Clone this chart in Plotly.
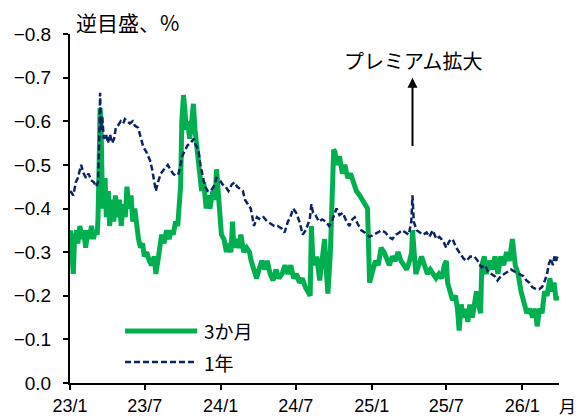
import plotly.graph_objects as go

# 3か月物 逆目盛（%）
m3_dates = [
    "2023-01-02", "2023-01-05", "2023-01-09", "2023-01-12", "2023-01-17", "2023-01-20", "2023-01-25", "2023-01-30",
    "2023-02-03", "2023-02-08", "2023-02-13", "2023-02-17", "2023-02-22", "2023-02-27", "2023-03-03", "2023-03-08",
    "2023-03-10", "2023-03-13", "2023-03-15", "2023-03-17", "2023-03-20", "2023-03-22", "2023-03-27", "2023-03-30",
    "2023-04-04", "2023-04-07", "2023-04-12", "2023-04-17", "2023-04-21", "2023-04-26", "2023-05-01", "2023-05-05",
    "2023-05-10", "2023-05-15", "2023-05-19", "2023-05-24", "2023-05-29", "2023-06-02", "2023-06-07", "2023-06-12",
    "2023-06-16", "2023-06-21", "2023-06-26", "2023-06-30", "2023-07-06", "2023-07-12", "2023-07-18", "2023-07-24",
    "2023-07-28", "2023-08-02", "2023-08-07", "2023-08-11", "2023-08-17", "2023-08-23", "2023-08-29", "2023-09-04",
    "2023-09-08", "2023-09-14", "2023-09-19", "2023-09-22", "2023-09-26", "2023-09-29", "2023-10-03", "2023-10-06",
    "2023-10-10", "2023-10-13", "2023-10-18", "2023-10-23", "2023-10-27", "2023-10-31", "2023-11-03", "2023-11-08",
    "2023-11-12", "2023-11-16", "2023-11-21", "2023-11-27", "2023-12-01", "2023-12-06", "2023-12-13", "2023-12-19",
    "2023-12-22", "2023-12-27", "2024-01-03", "2024-01-09", "2024-01-15", "2024-01-19", "2024-01-26", "2024-01-30",
    "2024-02-02", "2024-02-07", "2024-02-14", "2024-02-19", "2024-02-26", "2024-03-04", "2024-03-11", "2024-03-15",
    "2024-03-21", "2024-03-28", "2024-04-03", "2024-04-10", "2024-04-17", "2024-04-23", "2024-04-30", "2024-05-07",
    "2024-05-14", "2024-05-21", "2024-05-29", "2024-06-05", "2024-06-12", "2024-06-19", "2024-06-26", "2024-07-03",
    "2024-07-10", "2024-07-17", "2024-07-24", "2024-07-31", "2024-08-05", "2024-08-08", "2024-08-11", "2024-08-16",
    "2024-08-21", "2024-08-28", "2024-09-04", "2024-09-09", "2024-09-13", "2024-09-17", "2024-09-23", "2024-09-27",
    "2024-10-01", "2024-10-04", "2024-10-09", "2024-10-15", "2024-10-22", "2024-10-28", "2024-11-04", "2024-11-11",
    "2024-11-18", "2024-11-25", "2024-12-03", "2024-12-10", "2024-12-17", "2024-12-22", "2024-12-27", "2025-01-03",
    "2025-01-10", "2025-01-17", "2025-01-24", "2025-01-31", "2025-02-07", "2025-02-13", "2025-02-20", "2025-02-27",
    "2025-03-06", "2025-03-13", "2025-03-20", "2025-03-27", "2025-04-03", "2025-04-08", "2025-04-10", "2025-04-14",
    "2025-04-18", "2025-04-25", "2025-05-02", "2025-05-09", "2025-05-16", "2025-05-23", "2025-05-30", "2025-06-06",
    "2025-06-13", "2025-06-20", "2025-06-26", "2025-07-01", "2025-07-04", "2025-07-09", "2025-07-16", "2025-07-23",
    "2025-07-28", "2025-08-01", "2025-08-06", "2025-08-12", "2025-08-18", "2025-08-22", "2025-08-27", "2025-09-02",
    "2025-09-08", "2025-09-12", "2025-09-17", "2025-09-22", "2025-09-25", "2025-10-01", "2025-10-06", "2025-10-13",
    "2025-10-20", "2025-10-27", "2025-11-03", "2025-11-10", "2025-11-17", "2025-11-24", "2025-12-01", "2025-12-08",
    "2025-12-15", "2025-12-22", "2025-12-29", "2026-01-05", "2026-01-12", "2026-01-19", "2026-01-26", "2026-02-02",
    "2026-02-06", "2026-02-12", "2026-02-18", "2026-02-24", "2026-03-02", "2026-03-09", "2026-03-14", "2026-03-19",
    "2026-03-24", "2026-03-27",
]
m3_values = [
    -0.35, -0.30, -0.25, -0.33, -0.35, -0.32, -0.36, -0.33,
    -0.35, -0.31, -0.35, -0.33, -0.36, -0.33, -0.35, -0.34,
    -0.38, -0.52, -0.63, -0.60, -0.45, -0.40, -0.47, -0.38,
    -0.44, -0.36, -0.42, -0.37, -0.43, -0.38, -0.42, -0.36,
    -0.41, -0.38, -0.45, -0.40, -0.43, -0.37, -0.40, -0.35,
    -0.33, -0.31, -0.32, -0.29, -0.30, -0.28, -0.27, -0.29,
    -0.25, -0.28, -0.31, -0.34, -0.32, -0.35, -0.33, -0.35,
    -0.34, -0.37, -0.36, -0.39, -0.45, -0.60, -0.66, -0.63,
    -0.58, -0.60, -0.56, -0.60, -0.64, -0.58, -0.55, -0.52,
    -0.48, -0.44, -0.46, -0.40, -0.43, -0.40, -0.44, -0.42,
    -0.49, -0.44, -0.34, -0.33, -0.30, -0.32, -0.30, -0.37,
    -0.31, -0.33, -0.31, -0.34, -0.30, -0.31, -0.30, -0.28,
    -0.26, -0.24, -0.26, -0.28, -0.26, -0.28, -0.25, -0.235,
    -0.26, -0.24, -0.25, -0.27, -0.25, -0.27, -0.24, -0.25,
    -0.23, -0.24, -0.22, -0.21, -0.20, -0.36, -0.29, -0.27,
    -0.29, -0.235, -0.30, -0.33, -0.26, -0.205, -0.30, -0.45,
    -0.535, -0.53, -0.50, -0.52, -0.48, -0.50, -0.47, -0.48,
    -0.46, -0.44, -0.43, -0.42, -0.41, -0.40, -0.23, -0.26,
    -0.28, -0.27, -0.31, -0.30, -0.28, -0.27, -0.29, -0.28,
    -0.30, -0.28, -0.27, -0.26, -0.28, -0.30, -0.35, -0.28,
    -0.25, -0.27, -0.29, -0.27, -0.25, -0.26, -0.25, -0.24,
    -0.25, -0.24, -0.27, -0.28, -0.23, -0.21, -0.19, -0.20,
    -0.17, -0.12, -0.18, -0.15, -0.17, -0.14, -0.18, -0.15,
    -0.19, -0.21, -0.18, -0.16, -0.27, -0.29, -0.25, -0.28,
    -0.26, -0.29, -0.25, -0.29, -0.27, -0.30, -0.28, -0.33,
    -0.27, -0.25, -0.21, -0.18, -0.16, -0.17, -0.15, -0.17,
    -0.13, -0.17, -0.16, -0.21, -0.20, -0.24, -0.21, -0.23,
    -0.19, -0.20,
]

# 1年物 逆目盛（%）
y1_dates = [
    "2023-01-02", "2023-01-09", "2023-01-15", "2023-01-20", "2023-01-28", "2023-02-03", "2023-02-09", "2023-02-15",
    "2023-02-21", "2023-02-28", "2023-03-05", "2023-03-10", "2023-03-13", "2023-03-15", "2023-03-17", "2023-03-20",
    "2023-03-24", "2023-03-29", "2023-04-03", "2023-04-08", "2023-04-13", "2023-04-18", "2023-04-22", "2023-04-27",
    "2023-05-04", "2023-05-10", "2023-05-14", "2023-05-19", "2023-05-26", "2023-06-02", "2023-06-07", "2023-06-15",
    "2023-06-22", "2023-06-28", "2023-07-05", "2023-07-14", "2023-07-19", "2023-07-24", "2023-07-28", "2023-08-02",
    "2023-08-09", "2023-08-17", "2023-08-26", "2023-09-01", "2023-09-08", "2023-09-14", "2023-09-21", "2023-09-26",
    "2023-09-30", "2023-10-05", "2023-10-13", "2023-10-20", "2023-10-28", "2023-11-02", "2023-11-08", "2023-11-13",
    "2023-11-18", "2023-11-24", "2023-12-01", "2023-12-08", "2023-12-15", "2023-12-22", "2023-12-30", "2024-01-06",
    "2024-01-13", "2024-01-20", "2024-01-28", "2024-02-04", "2024-02-10", "2024-02-17", "2024-02-24", "2024-02-29",
    "2024-03-07", "2024-03-14", "2024-03-22", "2024-03-29", "2024-04-06", "2024-04-14", "2024-04-23", "2024-05-01",
    "2024-05-10", "2024-05-18", "2024-05-27", "2024-06-04", "2024-06-12", "2024-06-18", "2024-06-25", "2024-07-02",
    "2024-07-10", "2024-07-18", "2024-07-25", "2024-08-04", "2024-08-08", "2024-08-12", "2024-08-18", "2024-08-26",
    "2024-09-03", "2024-09-12", "2024-09-20", "2024-09-26", "2024-10-03", "2024-10-08", "2024-10-15", "2024-10-23",
    "2024-11-01", "2024-11-08", "2024-11-15", "2024-11-21", "2024-11-28", "2024-12-07", "2024-12-15", "2024-12-27",
    "2025-01-06", "2025-01-15", "2025-01-25", "2025-02-03", "2025-02-12", "2025-02-20", "2025-03-01", "2025-03-09",
    "2025-03-16", "2025-03-24", "2025-04-01", "2025-04-07", "2025-04-10", "2025-04-13", "2025-04-20", "2025-04-28",
    "2025-05-06", "2025-05-14", "2025-05-21", "2025-05-29", "2025-06-07", "2025-06-14", "2025-06-19", "2025-06-26",
    "2025-07-01", "2025-07-08", "2025-07-16", "2025-07-25", "2025-08-02", "2025-08-12", "2025-08-19", "2025-08-28",
    "2025-09-07", "2025-09-15", "2025-09-24", "2025-10-03", "2025-10-10", "2025-10-18", "2025-10-26", "2025-11-02",
    "2025-11-10", "2025-11-18", "2025-11-27", "2025-12-05", "2025-12-14", "2025-12-25", "2026-01-04", "2026-01-11",
    "2026-01-18", "2026-01-25", "2026-02-03", "2026-02-11", "2026-02-18", "2026-02-23", "2026-03-02", "2026-03-07",
    "2026-03-12", "2026-03-16", "2026-03-20", "2026-03-24", "2026-03-27",
]
y1_values = [
    -0.44, -0.43, -0.46, -0.47, -0.50, -0.48, -0.47, -0.48,
    -0.465, -0.46, -0.45, -0.46, -0.56, -0.665, -0.58, -0.61,
    -0.56, -0.57, -0.55, -0.57, -0.55, -0.56, -0.585, -0.59,
    -0.60, -0.595, -0.605, -0.60, -0.595, -0.60, -0.59, -0.585,
    -0.56, -0.54, -0.53, -0.51, -0.49, -0.46, -0.44, -0.46,
    -0.48, -0.49, -0.50, -0.49, -0.48, -0.475, -0.48, -0.50,
    -0.52, -0.53, -0.545, -0.55, -0.56, -0.545, -0.535, -0.50,
    -0.48, -0.45, -0.44, -0.44, -0.45, -0.47, -0.465, -0.455,
    -0.45, -0.44, -0.455, -0.46, -0.45, -0.445, -0.44, -0.42,
    -0.41, -0.40, -0.36, -0.38, -0.375, -0.38, -0.37, -0.365,
    -0.36, -0.36, -0.355, -0.345, -0.37, -0.38, -0.40, -0.39,
    -0.37, -0.34, -0.35, -0.375, -0.41, -0.39, -0.385, -0.37,
    -0.375, -0.37, -0.36, -0.37, -0.39, -0.40, -0.385, -0.39,
    -0.37, -0.36, -0.375, -0.38, -0.365, -0.35, -0.345, -0.335,
    -0.34, -0.345, -0.35, -0.345, -0.335, -0.33, -0.34, -0.345,
    -0.35, -0.345, -0.34, -0.37, -0.43, -0.37, -0.35, -0.345,
    -0.34, -0.345, -0.335, -0.35, -0.33, -0.335, -0.33, -0.32,
    -0.31, -0.325, -0.33, -0.31, -0.30, -0.285, -0.28, -0.29,
    -0.29, -0.28, -0.265, -0.27, -0.255, -0.25, -0.245, -0.235,
    -0.245, -0.25, -0.255, -0.26, -0.255, -0.25, -0.245, -0.235,
    -0.23, -0.22, -0.215, -0.215, -0.22, -0.23, -0.25, -0.275,
    -0.285, -0.27, -0.29, -0.28, -0.29,
]

series_names = ["3か月", "1年"]
y_tick_values = [0.0, -0.1, -0.2, -0.3, -0.4, -0.5, -0.6, -0.7, -0.8]
y_tick_labels = ["0.0", "−0.1", "−0.2", "−0.3", "−0.4", "−0.5", "−0.6", "−0.7", "−0.8"]
x_tick_values = ["2023-01-01", "2023-07-01", "2024-01-01", "2024-07-01",
                 "2025-01-01", "2025-07-01", "2026-01-01"]
x_tick_labels = ["23/1", "23/7", "24/1", "24/7", "25/1", "25/7", "26/1"]

GREEN = "#00B050"
NAVY = "#0B2463"
FONT = "Noto Sans CJK JP"
TICK_FONT = "Liberation Sans"

fig = go.Figure()
fig.add_trace(go.Scatter(
    x=m3_dates, y=m3_values, name=series_names[0], mode="lines",
    line=dict(color=GREEN, width=5), showlegend=False,
))
fig.add_trace(go.Scatter(
    x=y1_dates, y=y1_values, name=series_names[1], mode="lines",
    line=dict(color=NAVY, width=2.5, dash="6px,3px"), showlegend=False,
))

# legend drawn as short samples with labels
legend_rows = [
    (0.149, dict(color=GREEN, width=5), series_names[0]),
    (0.060, dict(color=NAVY, width=2.5, dash="6px,3px"), series_names[1]),
]
for ypos, style, label in legend_rows:
    fig.add_shape(type="line", xref="paper", yref="paper",
                  x0=0.1125, x1=0.26, y0=ypos, y1=ypos, line=style)
    fig.add_annotation(xref="paper", yref="paper", x=0.27, y=ypos,
                       text=label, showarrow=False, xanchor="left", yanchor="middle",
                       font=dict(family=FONT, size=19, color="#000000"))

# arrow and caption
fig.add_annotation(x="2025-04-10", y=-0.70, ax="2025-04-10", ay=-0.54,
                   xref="x", yref="y", axref="x", ayref="y", text="",
                   showarrow=True, arrowhead=2, arrowsize=1, arrowwidth=2,
                   arrowcolor="#000000")
fig.add_annotation(x="2025-04-13", y=-0.74, xref="x", yref="y",
                   text="プレミアム拡大", showarrow=False,
                   font=dict(family=FONT, size=20, color="#000000"))

# axis captions
fig.add_annotation(xref="paper", yref="paper", x=0.008, y=1.0, yshift=12,
                   text="逆目盛、%", showarrow=False, xanchor="left", yanchor="middle",
                   font=dict(family=FONT, size=21, color="#000000"))
fig.add_annotation(xref="paper", yref="paper", x=1.017, y=-0.064,
                   text="月", showarrow=False, xanchor="center", yanchor="middle",
                   font=dict(family=FONT, size=17, color="#000000"))

fig.update_layout(
    width=579, height=419,
    margin=dict(l=70, r=20, t=34, b=36, autoexpand=False),
    paper_bgcolor="white", plot_bgcolor="white",
    font=dict(family=FONT, size=18, color="#000000"),
    showlegend=False,
)
fig.update_xaxes(
    type="date", range=["2023-01-01", "2026-03-31"],
    tickmode="array", tickvals=x_tick_values, ticktext=x_tick_labels,
    tickfont=dict(family=TICK_FONT, size=18),
    showgrid=False, zeroline=False, automargin=False,
    showline=True, linecolor="#000000", linewidth=2,
    ticks="outside", ticklen=5, tickwidth=2, tickcolor="#000000",
    ticklabelstandoff=0,
)
fig.update_yaxes(
    range=[0, -0.8],
    tickmode="array", tickvals=y_tick_values, ticktext=y_tick_labels,
    tickfont=dict(family=TICK_FONT, size=19),
    showgrid=False, zeroline=False, automargin=False,
    showline=True, linecolor="#000000", linewidth=2,
    ticks="outside", ticklen=5, tickwidth=2, tickcolor="#000000",
    ticklabelstandoff=8,
)

fig.write_html("out.html")
